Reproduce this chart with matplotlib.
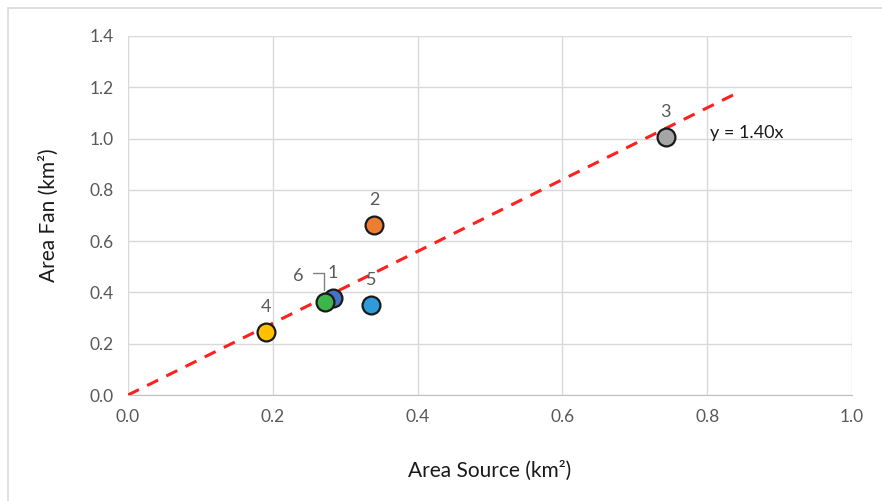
import matplotlib.pyplot as plt
from matplotlib.patches import Rectangle

# fan data: area source vs area fan (km2)
ids = ['1', '2', '3', '4', '5', '6']
area_source = [0.283, 0.340, 0.743, 0.191, 0.336, 0.272]
area_fan = [0.378, 0.663, 1.006, 0.246, 0.351, 0.363]
colors = ['#4472C4', '#ED7D31', '#A5A5A5', '#FFC000', '#2E9BDA', '#3CB54A']
slope = 1.40
fit_x = [0.0, 0.845]
xticks = [0.0, 0.2, 0.4, 0.6, 0.8, 1.0]
yticks = [0.0, 0.2, 0.4, 0.6, 0.8, 1.0, 1.2, 1.4]

plt.rcParams['font.family'] = ['Lato', 'DejaVu Sans']

fig = plt.figure(figsize=(8.82, 5.01), dpi=100)
fig.patches.append(Rectangle((8 / 882, -0.1), 1.2, 1.1 - 8 / 501,
                             transform=fig.transFigure, fill=False,
                             edgecolor='#D9D9D9', linewidth=1.2))
ax = fig.add_axes([128 / 882, 1 - 395 / 501, 724 / 882, 359 / 501])

ax.set_xlim(0, 1.0)
ax.set_ylim(0, 1.4)
ax.set_xticks(xticks)
ax.set_yticks(yticks)
ax.set_xticklabels([f'{v:.1f}' for v in xticks])
ax.set_yticklabels([f'{v:.1f}' for v in yticks])
ax.grid(True, color='#D9D9D9', linewidth=1)
ax.set_axisbelow(True)
for s in ['top', 'right', 'left']:
    ax.spines[s].set_visible(False)
ax.spines['bottom'].set_color('#BFBFBF')
ax.tick_params(length=0, labelsize=12.5, colors='#595959', pad=10)

# trend line
ax.plot(fit_x, [slope * v for v in fit_x], color='#FF2020', linestyle=(0, (4, 3)),
        linewidth=2.2, zorder=2)

for i in range(len(ids)):
    ax.scatter(area_source[i], area_fan[i], s=165, color=colors[i],
               edgecolors='#1A1A1A', linewidths=1.6, zorder=3)

offsets = {'1': (0, 12), '2': (0, 12), '3': (0, 12), '4': (0, 12),
           '5': (0, 12), '6': (-19.5, 13)}
for k, name in enumerate(ids):
    dx, dy = offsets[name]
    ax.annotate(name, (area_source[k], area_fan[k]), xytext=(dx, dy),
                textcoords='offset points', ha='center', va='bottom',
                fontsize=13, color='#595959')

# leader line for label 6
ax.annotate('', xy=(0.2705, 0.41), xytext=(0.2555, 0.476), textcoords='data',
            arrowprops=dict(arrowstyle='-', color='#808080', lw=1,
                            shrinkA=0, shrinkB=0,
                            connectionstyle='angle,angleA=0,angleB=90,rad=0'))

ax.text(0.804, 1.02, f'y = {slope:.2f}x', fontsize=13, color='#1A1A1A',
        ha='left', va='center')

ax.set_xlabel('Area Source (km²)', fontsize=15, color='#1A1A1A', labelpad=26)
ax.set_ylabel('Area Fan (km²)', fontsize=15, color='#1A1A1A', labelpad=22)

fig.savefig('out.png', dpi=100)
